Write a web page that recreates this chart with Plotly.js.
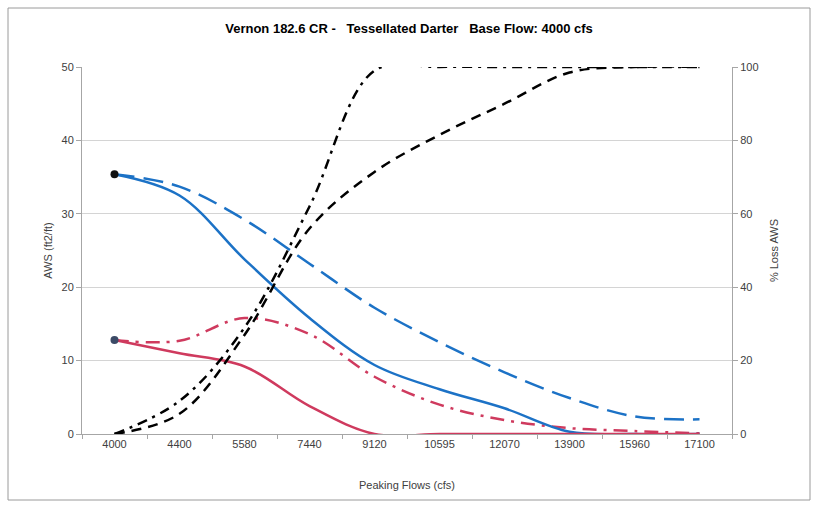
<!DOCTYPE html>
<html>
<head>
<meta charset="utf-8">
<script src="https://cdn.plot.ly/plotly-3.0.1.min.js"></script>
<style>
html,body{margin:0;padding:0;background:#fff;}
#chart{width:818px;height:506px;}
</style>
</head>
<body>
<div id="chart"></div>
<script>
// Data
var peakingFlows = ['4000','4400','5580','7440','9120','10595','12070','13900','15960','17100'];
var blueSolid  = [35.4, 32.5, 23.8, 15.8, 9.4, 6.1, 3.5, 0.3, 0, 0];
var blueDashed = [35.4, 33.7, 29.2, 23.2, 17.2, 12.5, 8.4, 4.9, 2.4, 2.0];
var redSolid   = [12.8, 11.0, 9.2, 3.8, 0, 0, 0, 0, 0, 0];
var redDashDot = [12.8, 12.7, 15.8, 13.6, 7.8, 4.0, 1.9, 0.8, 0.4, 0.1];
var lossDashDot = [0, 9, 29, 62, 99, 100, 100, 100, 100, 100];
var lossDashed  = [0, 5.5, 27, 56, 71.4, 81.5, 90, 98.5, 100, 100];
var baseFlowLabel = ['4000','4000'];
var baseFlowAws = [35.4, 12.8];

var BLUE = '#1c72c6', RED = '#cf3a5e', BLACK = '#000000';
var FONT = 'Liberation Sans, Arial, sans-serif';
var SM = 1.0;

var traces = [
  {x: peakingFlows, y: lossDashDot, yaxis: 'y2', mode: 'lines',
   line: {color: BLACK, width: 2.5, dash: '10px,6px,3px,6px', shape: 'spline', smoothing: SM}},
  {x: peakingFlows, y: lossDashed, yaxis: 'y2', mode: 'lines',
   line: {color: BLACK, width: 2.5, dash: '10px,7px', shape: 'spline', smoothing: SM}},
  {x: peakingFlows, y: blueDashed, mode: 'lines',
   line: {color: BLUE, width: 2.5, dash: '20px,9px', shape: 'spline', smoothing: SM}},
  {x: peakingFlows, y: redDashDot, mode: 'lines',
   line: {color: RED, width: 2.5, dash: '14px,7px,3px,7px', shape: 'spline', smoothing: SM}},
  {x: peakingFlows, y: blueSolid, mode: 'lines',
   line: {color: BLUE, width: 2.5, shape: 'spline', smoothing: SM}},
  {x: peakingFlows, y: redSolid, mode: 'lines',
   line: {color: RED, width: 2.5, shape: 'spline', smoothing: SM}},
  {x: baseFlowLabel, y: baseFlowAws, mode: 'markers',
   marker: {color: ['#111111', '#3b4a66'], size: 8}}
];

var layout = {
  width: 818, height: 506,
  margin: {l: 82, r: 86, t: 67, b: 72},
  paper_bgcolor: '#ffffff', plot_bgcolor: '#ffffff',
  showlegend: false,
  font: {family: FONT, size: 11, color: '#404040'},
  title: {text: 'Vernon 182.6 CR -   Tessellated Darter   Base Flow: 4000 cfs',
          font: {family: FONT, size: 13, color: '#000000', weight: 'bold'},
          x: 0.5, xanchor: 'center', y: 0.943, yanchor: 'middle'},
  xaxis: {type: 'category', range: [-0.5, 9.5], showgrid: false, zeroline: false,
          showline: true, linecolor: '#a6a6a6', linewidth: 1,
          ticks: 'outside', tickson: 'boundaries', ticklen: 4, tickcolor: '#a6a6a6',
          tickfont: {family: FONT, size: 11, color: '#404040'},
          title: {text: 'Peaking Flows (cfs)', font: {family: FONT, size: 11, color: '#404040'}, standoff: 32}},
  yaxis: {range: [0, 50], dtick: 10, showgrid: true, gridcolor: '#d4d4d4', gridwidth: 1,
          zeroline: false, showline: true, linecolor: '#a6a6a6', linewidth: 1,
          ticks: 'outside', ticklen: 5, tickcolor: '#a6a6a6',
          tickfont: {family: FONT, size: 11, color: '#404040'},
          title: {text: 'AWS (ft2/ft)', font: {family: FONT, size: 11, color: '#404040'}, standoff: 6}},
  yaxis2: {range: [0, 100], dtick: 20, overlaying: 'y', side: 'right', showgrid: false,
           zeroline: false, showline: true, linecolor: '#a6a6a6', linewidth: 1,
           ticks: 'outside', ticklen: 5, tickcolor: '#a6a6a6',
           tickfont: {family: FONT, size: 11, color: '#404040'},
           title: {text: '% Loss AWS', font: {family: FONT, size: 11, color: '#404040'}, standoff: 12}},
  shapes: [
    {type: 'rect', xref: 'paper', yref: 'paper',
     x0: (8 - 82) / 650, x1: (810 - 82) / 650, y0: (434 - 500) / 367, y1: (434 - 8) / 367,
     line: {color: '#9a9a9a', width: 1}, fillcolor: 'rgba(0,0,0,0)', layer: 'below'}
  ]
};

Plotly.newPlot('chart', traces, layout, {displayModeBar: false, staticPlot: true});
</script>
</body>
</html>
